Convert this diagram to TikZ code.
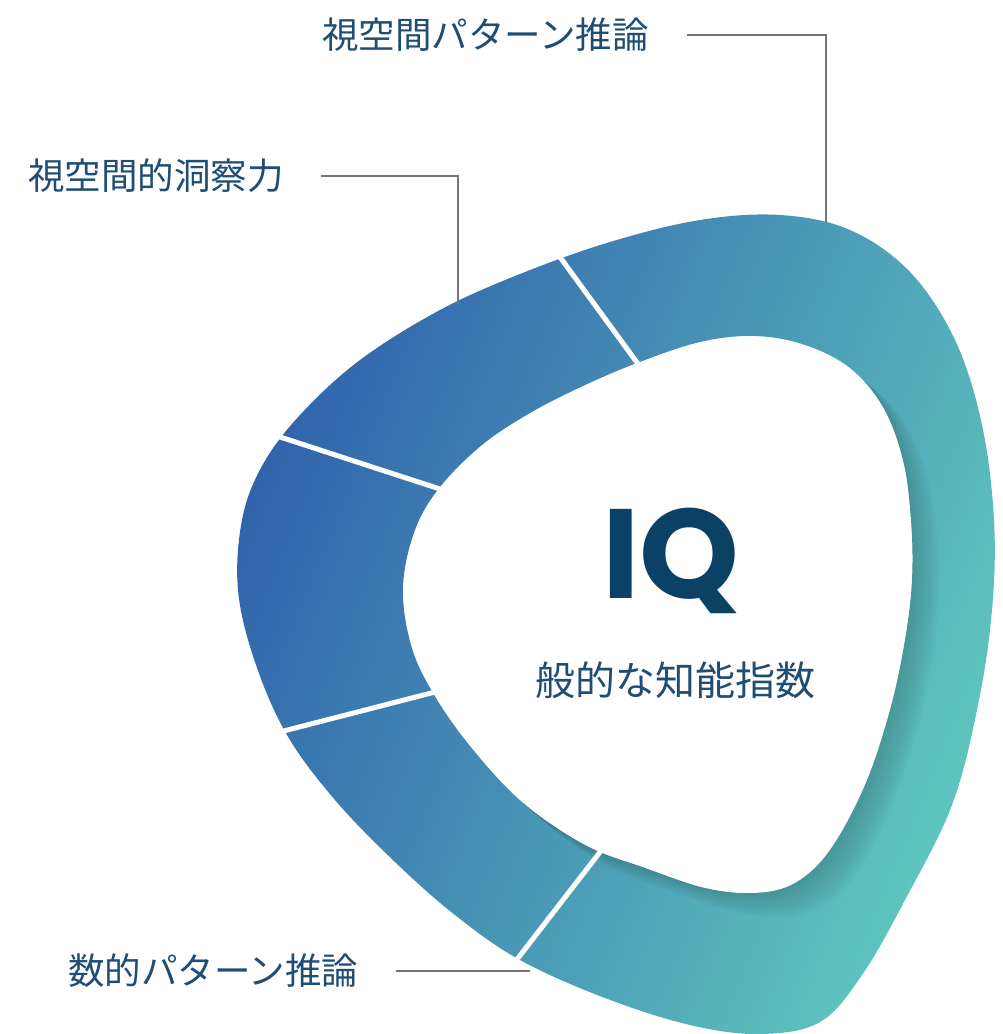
\documentclass[tikz,border=0pt]{standalone}
\usepackage{fontspec}
\newfontfamily\jpfont{Noto Sans CJK JP}
\newfontfamily\iqfont{Poppins}
\definecolor{lblue}{HTML}{1F4D74}
\definecolor{iqblue}{HTML}{0C4166}
\definecolor{conngray}{HTML}{77727C}
\definecolor{ringblue}{HTML}{3163AD}
\definecolor{ringteal}{HTML}{5FC6BE}
\tikzset{
  labeltext/.style={anchor=west, inner sep=0pt, text=lblue, font=\jpfont\fontsize{36.5}{40}\selectfont},
  conn/.style={draw=conngray, line width=2.4pt},
  divider/.style={draw=white, line width=5pt},
}
\def\outerpath{plot[smooth cycle, tension=0.6] coordinates {
 (700,220) (780,215) (850,230) (910,272) (955,340) (982,425) (994,520)
 (992,610) (978,705) (952,805) (905,900) (862,975) (820,1022) (760,1034)
 (690,1025) (605,998) (520,960) (455,915) (395,862) (335,800) (287,735)
 (255,662) (238,590) (242,520) (262,466) (300,415) (360,360) (440,310)
 (520,274) (610,242)}}
\def\innerpath{plot[smooth cycle, tension=0.6] coordinates {
 (637,363) (700,342) (755,336) (805,345) (850,368) (883,407) (903,460)
 (911,520) (912,580) (905,640) (890,710) (865,785) (830,850) (795,883)
 (755,893) (705,888) (645,868) (585,845) (522,802) (470,746) (433,693)
 (411,645) (403,587) (415,530) (440,487) (482,445) (530,413) (583,386)}}
\begin{document}
\begin{tikzpicture}[x=1pt,y=-1pt]
\useasboundingbox[fill=white] (0,0) rectangle (1002,1034);
% ring with gradient
\shade[even odd rule, top color=ringblue, bottom color=ringteal, shading angle=68]
  \outerpath \innerpath;
% inner shadow on the ring
\begin{scope}[even odd rule]
  \clip \outerpath \innerpath;
  \foreach \k in {1,...,14}{
    \fill[black, opacity=0.013, shift={(\k*1.9,\k*1.7)}] \innerpath;
  }
\end{scope}
% dividers
\coordinate (d1o) at (557,253); \coordinate (d1i) at (641,368);
\coordinate (d2o) at (277,436); \coordinate (d2i) at (443,490);
\coordinate (d3o) at (272,734); \coordinate (d3i) at (439,691);
\coordinate (d4o) at (515,962); \coordinate (d4i) at (607,843);
\draw[divider] (d1o) -- (d1i);
\draw[divider] (d2o) -- (d2i);
\draw[divider] (d3o) -- (d3i);
\draw[divider] (d4o) -- (d4i);
% centre texts
\node[inner sep=0pt, text=iqblue, font=\iqfont\bfseries\fontsize{127}{135}\selectfont] (iq) at (671,561) {IQ};
\node[inner sep=0pt, text=lblue, font=\jpfont\fontsize{40}{44}\selectfont] (giq) at (675,680) {般的な知能指数};
% labels
\node[labeltext] (l1) at (322,35) {視空間パターン推論};
\node[labeltext] (l2) at (28,176) {視空間的洞察力};
\node[labeltext] (l3) at (68,971) {数的パターン推論};
% connector ends
\coordinate (c1) at (826,222);
\coordinate (c2) at (458,304);
\coordinate (c3) at (530,973);
\draw[conn] ([xshift=38pt]l1.east) -| (c1);
\draw[conn] ([xshift=37pt]l2.east) -| (c2);
\draw[conn] ([xshift=37pt]l3.east) -- (l3.east -| c3);
\end{tikzpicture}
\end{document}
